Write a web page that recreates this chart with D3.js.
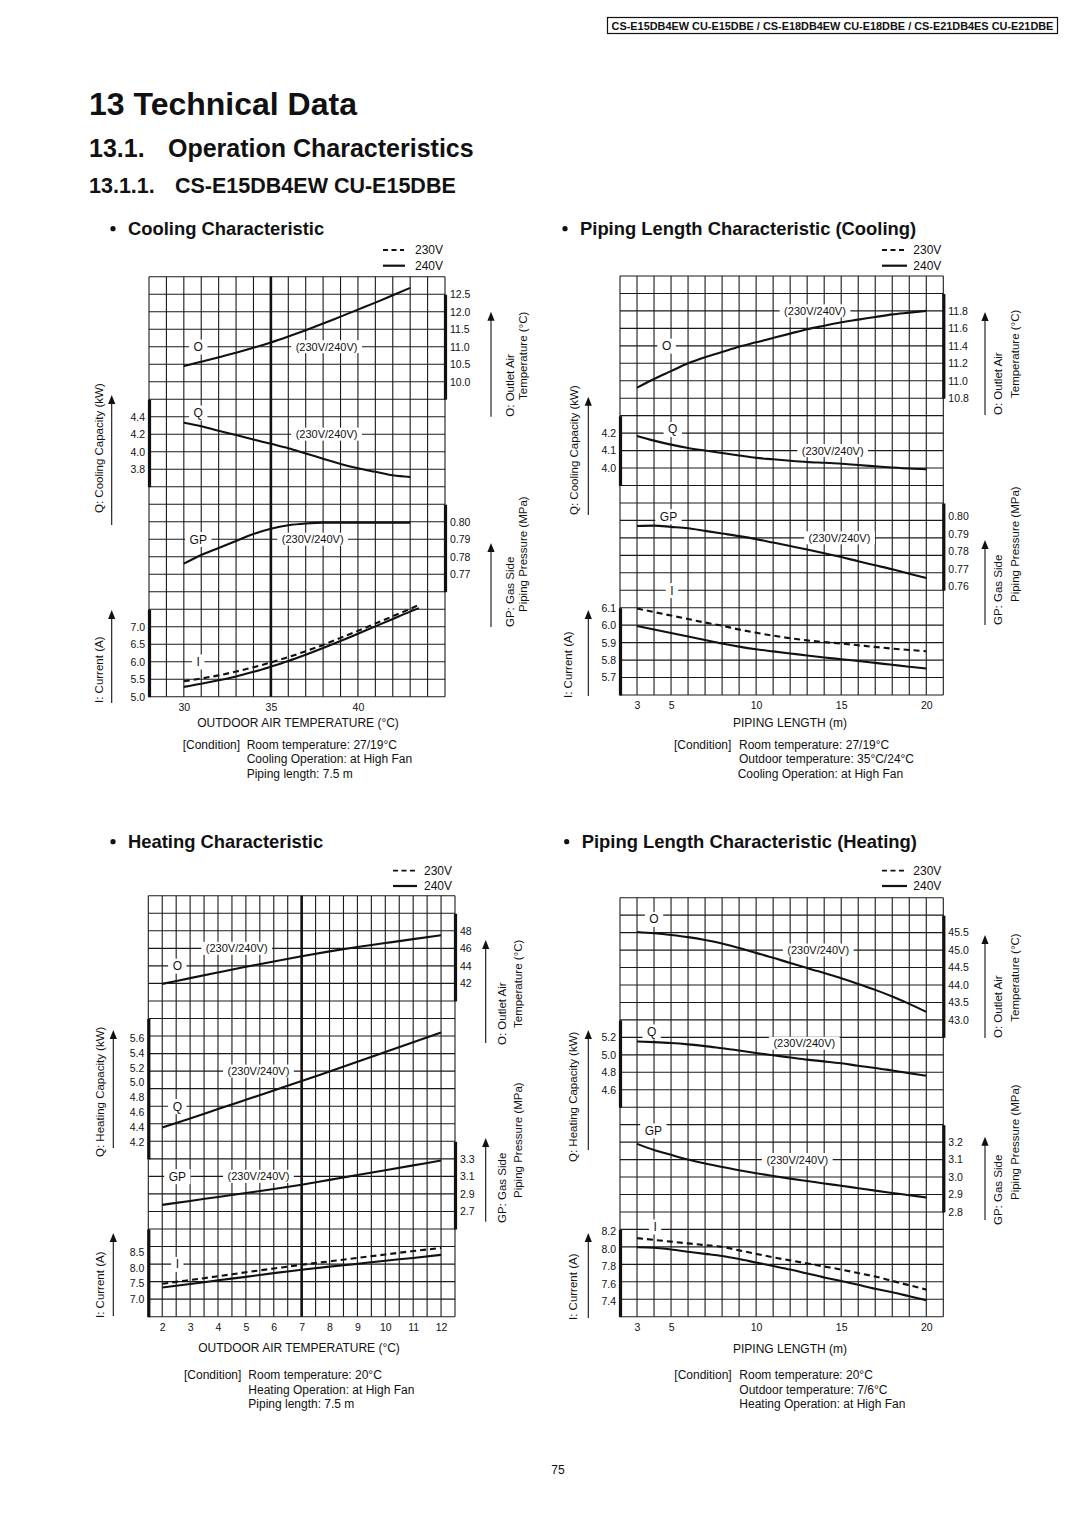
<!DOCTYPE html>
<html><head><meta charset="utf-8">
<script src="https://cdn.jsdelivr.net/npm/d3@7"></script>
<style>
html,body{margin:0;padding:0;background:#fff;}
svg{display:block;}
text{font-family:Arial,"Liberation Sans",Helvetica,sans-serif;fill:#111;}
</style></head><body>
<svg id="page" width="1080" height="1528"></svg>
<script>
// ---------------- DATA ----------------
// Cooling characteristic (outdoor air temperature, °C)
const coolTemp = [30,31,32,33,34,35,36,37,38,39,40,41,42,43];
const coolO = [10.45,10.57,10.70,10.83,10.97,11.12,11.29,11.47,11.66,11.86,12.06,12.26,12.47,12.68];
const coolQ = [4.33,4.29,4.24,4.19,4.14,4.09,4.04,3.98,3.92,3.86,3.81,3.77,3.73,3.71];
const coolGP = [0.776,0.781,0.785,0.789,0.793,0.796,0.798,0.799,0.7995,0.7995,0.7995,0.7995,0.7995,0.7995];
const coolTempI = [30,31,32,33,34,35,36,37,38,39,40,41,42,43,43.5];
const coolI240 = [5.28,5.37,5.47,5.58,5.71,5.86,6.02,6.20,6.39,6.59,6.80,7.01,7.22,7.43,7.53];
const coolI230 = [5.44,5.52,5.61,5.72,5.84,5.98,6.13,6.30,6.48,6.68,6.88,7.09,7.30,7.51,7.62];
const coolXTicks = [30,35,40];
const coolOTicks = [12.5,12.0,11.5,11.0,10.5,10.0];
const coolQTicks = [4.4,4.2,4.0,3.8];
const coolGPTicks = [0.80,0.79,0.78,0.77];
const coolITicks = [7.0,6.5,6.0,5.5,5.0];

// Piping length characteristic (cooling), piping length m
const pipeLen = [3,4,5,6,7,8,9,10,11,12,13,14,15,16,17,18,19,20];
const pipeCoolO = [10.92,11.02,11.11,11.20,11.27,11.33,11.39,11.44,11.49,11.54,11.59,11.63,11.67,11.70,11.73,11.76,11.78,11.80];
const pipeCoolQ = [4.184,4.157,4.134,4.115,4.100,4.086,4.072,4.058,4.050,4.042,4.035,4.030,4.025,4.017,4.010,4.003,3.997,3.993];
const pipeCoolGP = [0.7968,0.7970,0.7963,0.7955,0.7940,0.7925,0.7910,0.7893,0.7873,0.7853,0.7833,0.7812,0.7790,0.7766,0.7743,0.7720,0.7695,0.7670];
const pipeCoolI240 = [5.995,5.975,5.955,5.935,5.915,5.895,5.877,5.862,5.850,5.838,5.826,5.815,5.805,5.795,5.784,5.773,5.762,5.752];
const pipeCoolI230 = [6.095,6.075,6.055,6.035,6.015,5.997,5.975,5.957,5.940,5.925,5.913,5.903,5.895,5.885,5.875,5.866,5.858,5.851];
const pipeXTicks = [3,5,10,15,20];
const pipeCoolOTicks = [11.8,11.6,11.4,11.2,11.0,10.8];
const pipeCoolQTicks = [4.2,4.1,4.0];
const pipeCoolGPTicks = [0.80,0.79,0.78,0.77,0.76];
const pipeCoolITicks = [6.1,6.0,5.9,5.8,5.7];

// Heating characteristic (outdoor air temperature, °C)
const heatTemp = [2,3,4,5,6,7,8,9,10,11,12];
const heatO = [41.95,42.6,43.25,43.9,44.5,45.1,45.65,46.15,46.6,47.05,47.5];
const heatQ = [4.40,4.52,4.645,4.77,4.895,5.02,5.15,5.28,5.41,5.54,5.67];
const heatGP = [2.775,2.82,2.865,2.91,2.955,3.005,3.06,3.115,3.17,3.225,3.28];
const heatI240 = [7.37,7.48,7.60,7.71,7.83,7.94,8.04,8.13,8.23,8.32,8.42];
const heatI230 = [7.49,7.61,7.73,7.86,7.98,8.10,8.21,8.32,8.43,8.54,8.64];
const heatXTicks = [2,3,4,5,6,7,8,9,10,11,12];
const heatOTicks = [48,46,44,42];
const heatQTicks = [5.6,5.4,5.2,5.0,4.8,4.6,4.4,4.2];
const heatGPTicks = [3.3,3.1,2.9,2.7];
const heatITicks = [8.5,8.0,7.5,7.0];

// Piping length characteristic (heating)
const pipeHeatO = [45.52,45.48,45.43,45.37,45.29,45.19,45.06,44.92,44.78,44.63,44.49,44.34,44.19,44.03,43.86,43.67,43.46,43.23];
const pipeHeatQ = [5.152,5.145,5.135,5.120,5.100,5.075,5.050,5.020,4.995,4.970,4.945,4.925,4.903,4.875,4.850,4.820,4.790,4.760];
const pipeHeatGP = [3.19,3.155,3.127,3.10,3.077,3.057,3.039,3.022,3.006,2.991,2.977,2.963,2.95,2.936,2.922,2.909,2.896,2.883];
const pipeHeatI240 = [7.995,7.99,7.97,7.945,7.92,7.895,7.86,7.82,7.78,7.74,7.695,7.65,7.61,7.565,7.52,7.48,7.435,7.39];
const pipeHeatI230 = [8.10,8.08,8.06,8.04,8.02,8.00,7.96,7.92,7.88,7.845,7.81,7.775,7.74,7.70,7.66,7.61,7.56,7.51];
const pipeHeatOTicks = [45.5,45.0,44.5,44.0,43.5,43.0];
const pipeHeatQTicks = [5.2,5.0,4.8,4.6];
const pipeHeatGPTicks = [3.2,3.1,3.0,2.9,2.8];
const pipeHeatITicks = [8.2,8.0,7.8,7.6,7.4];

const zip = (xs, ys) => xs.map((x, i) => [x, ys[i]]);

// ---------------- DRAWING ----------------
const svg = d3.select('#page');
const INK = '#111';

function txt(parent, x, y, s, size, opts = {}) {
  const t = parent.append('text').attr('x', x).attr('y', y)
    .style('font-size', size + 'px').text(s);
  if (opts.bold) t.style('font-weight', 'bold');
  if (opts.anchor) t.attr('text-anchor', opts.anchor);
  if (opts.dy) t.attr('dy', opts.dy);
  return t;
}
function vtitle(parent, x, y, s) {
  parent.append('text').attr('transform', `translate(${x},${y}) rotate(-90)`)
    .attr('dy', '0.35em').style('font-size', '11.5px').text(s);
}
function arrow(parent, x, yb, yt) {
  parent.append('line').attr('x1', x).attr('x2', x).attr('y1', yb).attr('y2', yt + 6)
    .attr('stroke', INK).attr('stroke-width', 1.1);
  parent.append('path').attr('d', `M${x - 3.6},${yt + 9}L${x},${yt}L${x + 3.6},${yt + 9}Z`).attr('fill', INK);
}

function drawChart(c) {
  const g = svg.append('g');
  const W = c.cols * c.cellW, H = c.rows * c.cellH;
  const x = d3.scaleLinear().domain(c.xDomain).range([c.x0, c.x0 + W]);
  const yRow = r => c.y0 + r * c.cellH;

  // section title
  g.append('circle').attr('cx', c.title.bx).attr('cy', c.title.y - 6.3).attr('r', 2.6).attr('fill', INK);
  txt(g, c.title.tx, c.title.y, c.title.text, 18.4, {bold: true});

  // legend
  const lg = c.legend;
  g.append('line').attr('x1', lg.x1).attr('x2', lg.x2).attr('y1', lg.y1).attr('y2', lg.y1)
    .attr('stroke', INK).attr('stroke-width', 1.8).attr('stroke-dasharray', '5,3.5');
  g.append('line').attr('x1', lg.x1).attr('x2', lg.x2 + 1).attr('y1', lg.y2).attr('y2', lg.y2)
    .attr('stroke', INK).attr('stroke-width', 2.2);
  txt(g, lg.tx, lg.y1, '230V', 12, {dy: '0.35em'});
  txt(g, lg.tx, lg.y2, '240V', 12, {dy: '0.35em'});

  // grid
  const grid = g.append('g').attr('stroke', '#1a1a1a').attr('stroke-width', 1.1);
  const xs = d3.range(c.cols + 1).map(i => c.xDomain[0] + i * (c.xDomain[1] - c.xDomain[0]) / c.cols);
  grid.selectAll('line.v').data(xs).join('line')
    .attr('x1', d => x(d)).attr('x2', d => x(d)).attr('y1', c.y0).attr('y2', c.y0 + H);
  grid.selectAll('line.h').data(d3.range(c.rows + 1)).join('line')
    .attr('x1', c.x0).attr('x2', c.x0 + W).attr('y1', d => yRow(d)).attr('y2', d => yRow(d));
  if (c.refX != null) {
    g.append('line').attr('x1', x(c.refX)).attr('x2', x(c.refX)).attr('y1', c.y0).attr('y2', c.y0 + H)
      .attr('stroke', INK).attr('stroke-width', 2.6);
  }

  const labelLayer = g.append('g');
  const curveLayer = g.append('g');

  // panels
  c.panels.forEach(p => {
    const [[v1, r1], [v2, r2]] = p.ref;
    const y = d3.scaleLinear().domain([v1, v2]).range([yRow(r1), yRow(r2)]);
    const ys = y.copy().domain([y.invert(yRow(p.bar[0])), y.invert(yRow(p.bar[1]))])
      .range([yRow(p.bar[0]), yRow(p.bar[1])]);
    const right = p.side === 'right';
    const axis = (right ? d3.axisRight(ys) : d3.axisLeft(ys))
      .tickValues(p.ticks).tickSize(0).tickSizeOuter(0).tickPadding(right ? 5 : 4)
      .tickFormat(d3.format(p.fmt));
    const ag = g.append('g').attr('transform', `translate(${right ? c.x0 + W : c.x0},${p.tdy || 0})`).call(axis);
    ag.attr('font-family', null).attr('font-size', null);
    ag.selectAll('text').style('font-size', '10.5px').attr('fill', INK);
    ag.select('.domain').attr('stroke', INK).attr('stroke-width', 3.2)
      .attr('transform', `translate(0,${-(p.tdy || 0)})`);

    const line = d3.line().x(d => x(d[0])).y(d => y(d[1])).curve(d3.curveMonotoneX);
    p.series.forEach(s => {
      curveLayer.append('path').datum(s.pts).attr('d', line).attr('fill', 'none')
        .attr('stroke', INK).attr('stroke-width', 2.1)
        .attr('stroke-dasharray', s.dash ? '6,4' : null);
    });

    p.labels.forEach(l => {
      const t = txt(labelLayer, x(l.x), yRow(l.row) + (l.dy || 0), l.text, l.size || 11, {anchor: 'middle', dy: '0.36em'});
      const bb = t.node().getBBox();
      labelLayer.insert('rect', 'text').attr('x', bb.x - 4.5).attr('y', bb.y - 0.5)
        .attr('width', bb.width + 9).attr('height', bb.height + 1).attr('fill', '#fff');
    });
  });

  // x axis
  const xa = g.append('g').attr('transform', `translate(0,${c.y0 + H})`)
    .call(d3.axisBottom(x).tickValues(c.xTicks).tickSize(0).tickPadding(7));
  xa.attr('font-family', null).attr('font-size', null);
  xa.select('.domain').remove();
  xa.selectAll('text').style('font-size', '10.5px').attr('fill', INK);
  txt(g, c.xTitle.x, c.xTitle.y, c.xTitle.text, 12, {anchor: 'middle'});

  // side titles
  c.vtitles.forEach(v => vtitle(g, v.x, v.y, v.text));
  c.arrows.forEach(a => arrow(g, a.x, a.yb, a.yt));

  // conditions
  c.cond.lines.forEach((s, i) => {
    if (i === 0) txt(g, c.cond.x0, c.cond.ys[0], '[Condition]', 12);
    txt(g, c.cond.x1[i], c.cond.ys[i], s, 12);
  });
}

// ---------------- PAGE HEADER ----------------
svg.append('rect').attr('x', 607.5).attr('y', 17.5).attr('width', 450).attr('height', 16)
  .attr('fill', 'none').attr('stroke', INK).attr('stroke-width', 1.2);
txt(svg, 832.5, 29.5, 'CS-E15DB4EW CU-E15DBE / CS-E18DB4EW CU-E18DBE / CS-E21DB4ES CU-E21DBE', 10.9, {bold: true, anchor: 'middle'});
txt(svg, 89, 114.5, '13 Technical Data', 32, {bold: true});
txt(svg, 89, 157, '13.1.', 25, {bold: true});
txt(svg, 168, 157, 'Operation Characteristics', 25, {bold: true});
txt(svg, 89, 192.5, '13.1.1.', 21.5, {bold: true});
txt(svg, 175, 192.5, 'CS-E15DB4EW CU-E15DBE', 21.5, {bold: true});
txt(svg, 558, 1473.5, '75', 12, {anchor: 'middle'});

// ---------------- CHARTS ----------------
const C230 = '(230V/240V)';

drawChart({
  x0: 149, y0: 276.7, cols: 17, rows: 24, cellW: 296 / 17, cellH: 420 / 24,
  xDomain: [28, 45], xTicks: coolXTicks, refX: 35,
  title: {bx: 113, tx: 128, y: 235, text: 'Cooling Characteristic'},
  legend: {x1: 383, x2: 404, tx: 415, y1: 250, y2: 265.7},
  xTitle: {x: 298, y: 726.5, text: 'OUTDOOR AIR TEMPERATURE (°C)'},
  panels: [
    {ref: [[13.0, 0], [9.5, 7]], bar: [1, 7], side: 'right', ticks: coolOTicks, fmt: '.1f',
     series: [{pts: zip(coolTemp, coolO)}],
     labels: [{text: 'O', x: 30.83, row: 4, size: 12}, {text: C230, x: 38.2, row: 4}]},
    {ref: [[4.6, 7], [3.6, 12]], bar: [7, 12], side: 'left', ticks: coolQTicks, fmt: '.1f',
     series: [{pts: zip(coolTemp, coolQ)}],
     labels: [{text: 'Q', x: 30.83, row: 8, dy: -4, size: 12}, {text: C230, x: 38.2, row: 9}]},
    {ref: [[0.81, 13], [0.76, 18]], bar: [13, 18], side: 'right', ticks: coolGPTicks, fmt: '.2f',
     series: [{pts: zip(coolTemp, coolGP)}],
     labels: [{text: 'GP', x: 30.83, row: 15, size: 12}, {text: C230, x: 37.4, row: 15}]},
    {ref: [[7.5, 19], [5.0, 24]], bar: [19, 24], side: 'left', ticks: coolITicks, fmt: '.1f',
     series: [{pts: zip(coolTempI, coolI230), dash: true}, {pts: zip(coolTempI, coolI240)}],
     labels: [{text: 'I', x: 30.83, row: 22, size: 12}]}
  ],
  vtitles: [
    {x: 99, y: 513, text: 'Q: Cooling Capacity (kW)'},
    {x: 99, y: 703, text: 'I: Current (A)'},
    {x: 510, y: 416.7, text: 'O: Outlet Air'},
    {x: 523.3, y: 400, text: 'Temperature (°C)'},
    {x: 510, y: 627, text: 'GP: Gas Side'},
    {x: 523.3, y: 612, text: 'Piping Pressure (MPa)'}
  ],
  arrows: [
    {x: 111.7, yb: 525, yt: 395}, {x: 111.7, yb: 703, yt: 610},
    {x: 491, yb: 416.7, yt: 311.7}, {x: 491, yb: 627, yt: 543}
  ],
  cond: {x0: 182.7, x1: [246.7, 246.7, 246.7], ys: [749.3, 763.3, 778.3],
    lines: ['Room temperature: 27/19°C', 'Cooling Operation: at High Fan', 'Piping length: 7.5 m']}
});

drawChart({
  x0: 620, y0: 276, cols: 19, rows: 24, cellW: 323.3 / 19, cellH: 419 / 24,
  xDomain: [2, 21], xTicks: pipeXTicks, refX: null,
  title: {bx: 565, tx: 580, y: 235, text: 'Piping Length Characteristic (Cooling)'},
  legend: {x1: 882, x2: 906, tx: 913.3, y1: 250, y2: 265.7},
  xTitle: {x: 790, y: 727, text: 'PIPING LENGTH (m)'},
  panels: [
    {ref: [[12.0, 1], [10.8, 7]], bar: [1, 7], side: 'right', ticks: pipeCoolOTicks, fmt: '.1f',
     series: [{pts: zip(pipeLen, pipeCoolO)}],
     labels: [{text: 'O', x: 4.74, row: 4, size: 12}, {text: C230, x: 13.46, row: 2}]},
    {ref: [[4.3, 8], [3.9, 12]], bar: [8, 12], side: 'left', ticks: pipeCoolQTicks, fmt: '.1f',
     series: [{pts: zip(pipeLen, pipeCoolQ)}],
     labels: [{text: 'Q', x: 5.1, row: 9, dy: -4, size: 12}, {text: C230, x: 14.5, row: 10}]},
    {ref: [[0.81, 13], [0.76, 18]], bar: [13, 18], side: 'right', ticks: pipeCoolGPTicks, fmt: '.2f', tdy: -4,
     series: [{pts: zip(pipeLen, pipeCoolGP)}],
     labels: [{text: 'GP', x: 4.85, row: 14, dy: -4, size: 12}, {text: C230, x: 14.9, row: 15}]},
    {ref: [[6.1, 19], [5.6, 24]], bar: [19, 24], side: 'left', ticks: pipeCoolITicks, fmt: '.1f',
     series: [{pts: zip(pipeLen, pipeCoolI230), dash: true}, {pts: zip(pipeLen, pipeCoolI240)}],
     labels: [{text: 'I', x: 5.05, row: 18, size: 12}]}
  ],
  vtitles: [
    {x: 574, y: 515, text: 'Q: Cooling Capacity (kW)'},
    {x: 568, y: 698, text: 'I: Current (A)'},
    {x: 998, y: 415, text: 'O: Outlet Air'},
    {x: 1015, y: 398, text: 'Temperature (°C)'},
    {x: 998, y: 625, text: 'GP: Gas Side'},
    {x: 1015, y: 602, text: 'Piping Pressure (MPa)'}
  ],
  arrows: [
    {x: 588.3, yb: 515, yt: 396.7}, {x: 588.3, yb: 696, yt: 610},
    {x: 985, yb: 415, yt: 312}, {x: 985, yb: 625, yt: 540}
  ],
  cond: {x0: 674, x1: [739, 739, 737.7], ys: [749.3, 763.3, 778.3],
    lines: ['Room temperature: 27/19°C', 'Outdoor temperature: 35°C/24°C', 'Cooling Operation: at High Fan']}
});

drawChart({
  x0: 148.3, y0: 895.7, cols: 22, rows: 24, cellW: 306.7 / 22, cellH: 421 / 24,
  xDomain: [1.5, 12.5], xTicks: heatXTicks, refX: 7,
  title: {bx: 113, tx: 128, y: 848, text: 'Heating Characteristic'},
  legend: {x1: 393, x2: 416, tx: 424, y1: 870.7, y2: 886},
  xTitle: {x: 299, y: 1351.5, text: 'OUTDOOR AIR TEMPERATURE (°C)'},
  panels: [
    {ref: [[50, 1], [40, 6]], bar: [1, 6], side: 'right', ticks: heatOTicks, fmt: 'd',
     series: [{pts: zip(heatTemp, heatO)}],
     labels: [{text: 'O', x: 2.54, row: 4, size: 12}, {text: C230, x: 4.67, row: 3}]},
    {ref: [[5.6, 8.1], [4.2, 14.06]], bar: [7, 15], side: 'left', ticks: heatQTicks, fmt: '.1f',
     series: [{pts: zip(heatTemp, heatQ)}],
     labels: [{text: 'Q', x: 2.54, row: 12, size: 12}, {text: C230, x: 5.45, row: 10}]},
    {ref: [[3.5, 14], [2.5, 19]], bar: [14, 19], side: 'right', ticks: heatGPTicks, fmt: '.1f',
     series: [{pts: zip(heatTemp, heatGP)}],
     labels: [{text: 'GP', x: 2.54, row: 16, size: 12}, {text: C230, x: 5.45, row: 16}]},
    {ref: [[8.5, 20.33], [7.0, 22.99]], bar: [19, 24], side: 'left', ticks: heatITicks, fmt: '.1f',
     series: [{pts: zip(heatTemp, heatI230), dash: true}, {pts: zip(heatTemp, heatI240)}],
     labels: [{text: 'I', x: 2.54, row: 21, size: 12}]}
  ],
  vtitles: [
    {x: 100, y: 1157, text: 'Q: Heating Capacity (kW)'},
    {x: 100, y: 1318, text: 'I: Current (A)'},
    {x: 501.7, y: 1045, text: 'O: Outlet Air'},
    {x: 518.3, y: 1028, text: 'Temperature (°C)'},
    {x: 501.7, y: 1223, text: 'GP: Gas Side'},
    {x: 518.3, y: 1198, text: 'Piping Pressure (MPa)'}
  ],
  arrows: [
    {x: 113.3, yb: 1148, yt: 1030}, {x: 113.3, yb: 1316, yt: 1233},
    {x: 485.7, yb: 1043, yt: 940}, {x: 485.7, yb: 1221.7, yt: 1138}
  ],
  cond: {x0: 184, x1: [248.3, 248.3, 248.3], ys: [1379.3, 1393.6, 1408.3],
    lines: ['Room temperature: 20°C', 'Heating Operation: at High Fan', 'Piping length: 7.5 m']}
});

drawChart({
  x0: 620, y0: 897.7, cols: 19, rows: 24, cellW: 323.3 / 19, cellH: 419 / 24,
  xDomain: [2, 21], xTicks: pipeXTicks, refX: null,
  title: {bx: 566.7, tx: 581.7, y: 848, text: 'Piping Length Characteristic (Heating)'},
  legend: {x1: 882, x2: 906, tx: 913.3, y1: 870.7, y2: 886},
  xTitle: {x: 790, y: 1352.5, text: 'PIPING LENGTH (m)'},
  panels: [
    {ref: [[46.0, 1], [42.5, 8]], bar: [1, 8], side: 'right', ticks: pipeHeatOTicks, fmt: '.1f',
     series: [{pts: zip(pipeLen, pipeHeatO)}],
     labels: [{text: 'O', x: 4.0, row: 1, dy: 4, size: 12}, {text: C230, x: 13.65, row: 3}]},
    {ref: [[5.4, 7], [4.4, 12]], bar: [7, 12], side: 'left', ticks: pipeHeatQTicks, fmt: '.1f',
     series: [{pts: zip(pipeLen, pipeHeatQ)}],
     labels: [{text: 'Q', x: 3.86, row: 7.67, size: 12}, {text: C230, x: 12.83, row: 8.34}]},
    {ref: [[3.3, 13], [2.8, 18]], bar: [13, 18], side: 'right', ticks: pipeHeatGPTicks, fmt: '.1f',
     series: [{pts: zip(pipeLen, pipeHeatGP)}],
     labels: [{text: 'GP', x: 3.96, row: 13.34, size: 12}, {text: C230, x: 12.42, row: 15}]},
    {ref: [[8.2, 19], [7.2, 24]], bar: [19, 24], side: 'left', ticks: pipeHeatITicks, fmt: '.1f', tdy: 2,
     series: [{pts: zip(pipeLen, pipeHeatI230), dash: true}, {pts: zip(pipeLen, pipeHeatI240)}],
     labels: [{text: 'I', x: 4.06, row: 18.84, size: 12}]}
  ],
  vtitles: [
    {x: 573.3, y: 1162, text: 'Q: Heating Capacity (kW)'},
    {x: 573, y: 1320, text: 'I: Current (A)'},
    {x: 998.3, y: 1038, text: 'O: Outlet Air'},
    {x: 1015, y: 1021.7, text: 'Temperature (°C)'},
    {x: 998, y: 1225, text: 'GP: Gas Side'},
    {x: 1015, y: 1200, text: 'Piping Pressure (MPa)'}
  ],
  arrows: [
    {x: 588.3, yb: 1150, yt: 1030}, {x: 588.3, yb: 1318, yt: 1233},
    {x: 985, yb: 1038, yt: 935}, {x: 985, yb: 1220, yt: 1136.7}
  ],
  cond: {x0: 674.3, x1: [739.3, 739.3, 739.3], ys: [1379.3, 1393.6, 1408.3],
    lines: ['Room temperature: 20°C', 'Outdoor temperature: 7/6°C', 'Heating Operation: at High Fan']}
});
</script>
</body></html>
